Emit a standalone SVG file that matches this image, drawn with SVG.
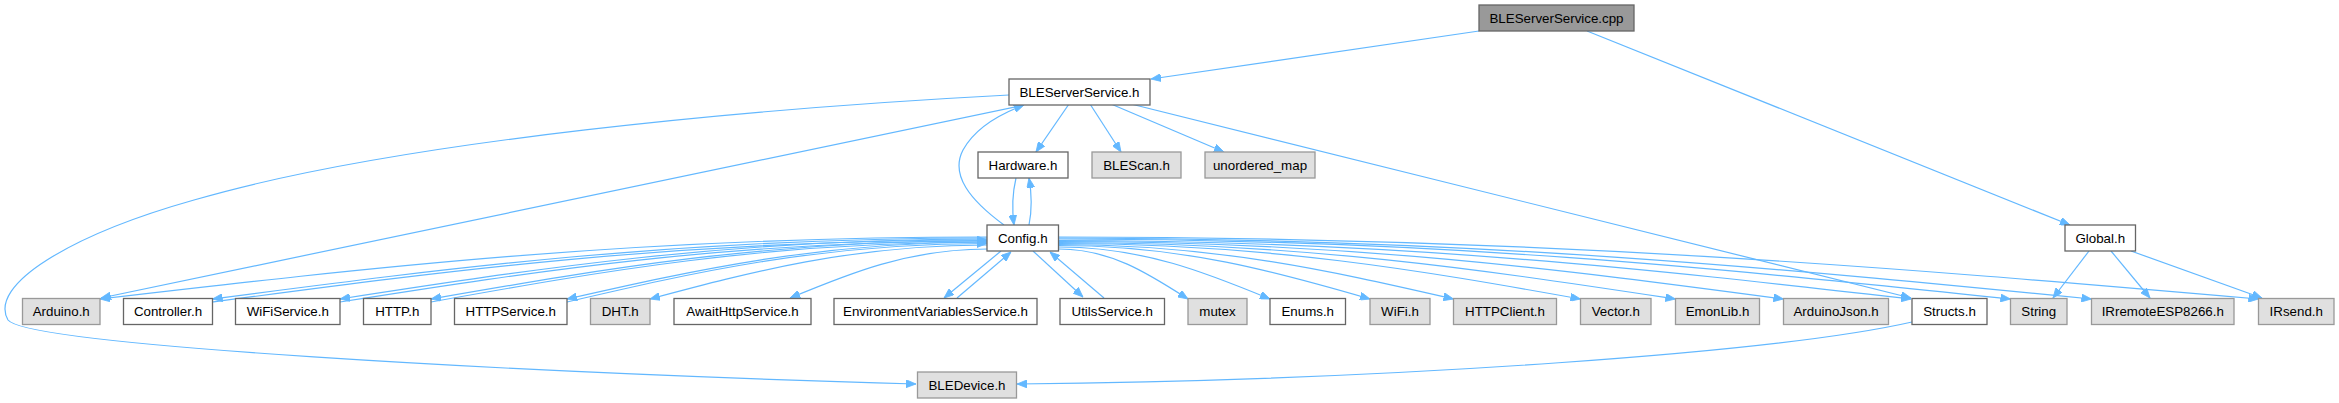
<svg xmlns="http://www.w3.org/2000/svg" width="2339" height="403" viewBox="0 0 2339 403">
<defs>
<style>
.w rect{fill:#ffffff;stroke:#666666;stroke-width:1.3}
.g rect{fill:#e0e0e0;stroke:#999999;stroke-width:1.3}
.r rect{fill:#999999;stroke:#666666;stroke-width:1.3}
text{font-family:"Liberation Sans",Arial,Helvetica,sans-serif;font-size:13.33px;fill:#000000;text-anchor:middle}
#edges path{fill:none;stroke:#63b8ff;stroke-width:1.2;marker-end:url(#arr)}
</style>
<marker id="arr" viewBox="0 0 10 8" refX="10" refY="4" markerWidth="10" markerHeight="8" markerUnits="userSpaceOnUse" orient="auto">
<path d="M0,0 L10,4 L0,8 z" fill="#63b8ff" stroke="#63b8ff" stroke-width="0.8"/>
</marker>
</defs>
<rect x="0" y="0" width="2339" height="403" fill="#ffffff"/>
<g id="edges">
<path d="M1479,31 L1151,79"/>
<path d="M1587,31 L2070,225"/>
<path d="M1069,104 L1036,152"/>
<path d="M1090,104 L1121,152"/>
<path d="M1111,104 L1224,152"/>
<path d="M1131,104 L1911,298"/>
<path d="M1020,106 L101,298"/>
<path d="M1009,95 C760,108 400,140 194,200 C70,235 -12,285 8,320 C28,345 500,372 916,384"/>
<path d="M1004,225 C970,200 950,175 963,150 C975,128 1000,114 1024,105"/>
<path d="M1016,178 C1012,195 1012,210 1014,225"/>
<path d="M1029,225 C1032,210 1032,195 1029,178"/>
<path d="M1912,322 C1780,352 1400,380 1017,384"/>
<path d="M2089,251 L2053,298"/>
<path d="M2111,251 L2150,298"/>
<path d="M2131,251 L2262,298"/>
<path d="M1001,251 L944,298"/>
<path d="M957,298 L1011,252"/>
<path d="M1033,251 L1083,297"/>
<path d="M1104,298 L1050,252"/>
<path d="M1059,249 C1111,249 1149,274 1188,299"/>
<path d="M1059,247 C1143,247 1207,273 1270,299"/>
<path d="M1059,245.5 C1183,245.5 1277,272 1370,299"/>
<path d="M1059,244.5 C1217,244.5 1335,272 1453.5,299"/>
<path d="M1059,243.5 C1268,243.5 1424,271 1580.5,299"/>
<path d="M1059,242.5 C1306,242.5 1490,271 1675.5,299"/>
<path d="M1059,241.5 C1349,241.5 1566,270 1783.5,299"/>
<path d="M1059,240.5 C1400,240.5 1656,270 1911,299"/>
<path d="M1059,239 C1440,239 1725,269 2010.5,299"/>
<path d="M1059,238 C1472,238 1782,268.5 2091.5,299"/>
<path d="M1059,237 C1539,237 1899,268 2258.5,299"/>
<path d="M987,237 C632,237 366,268 100,299"/>
<path d="M987,238 C677,238 445,268.5 212.5,299"/>
<path d="M987,239 C728,239 534,269 340,299"/>
<path d="M987,240.5 C765,240.5 598,270 431,299"/>
<path d="M987,242 C819,242 693,270.5 567,299"/>
<path d="M987,245 C852,245 751,272 650,299"/>
<path d="M988,249 C908,249 849,273.5 790,298"/>
<path d="M212.5,302 C445,271 677,240 987,240"/>
<path d="M340,302 C534,271.5 728,241 987,241"/>
<path d="M431,302 C598,272 765,242 987,242"/>
<path d="M567,302 C693,272.75 819,243.5 987,243.5"/>
</g>
<g id="n_cpp" class="r"><rect x="1479" y="5" width="155" height="26"/><text x="1556.5" y="22.7">BLEServerService.cpp</text></g>
<g id="n_bssh" class="w"><rect x="1009" y="79" width="141" height="26"/><text x="1079.5" y="96.7">BLEServerService.h</text></g>
<g id="n_hardware" class="w"><rect x="978" y="152" width="90" height="26"/><text x="1023" y="169.7">Hardware.h</text></g>
<g id="n_blescan" class="g"><rect x="1092" y="152" width="89" height="26"/><text x="1136.5" y="169.7">BLEScan.h</text></g>
<g id="n_umap" class="g"><rect x="1205" y="152" width="110" height="26"/><text x="1260" y="169.7">unordered_map</text></g>
<g id="n_config" class="w"><rect x="987" y="225" width="71.5" height="26"/><text x="1022.75" y="242.7">Config.h</text></g>
<g id="n_global" class="w"><rect x="2065" y="225" width="70.5" height="26"/><text x="2100.25" y="242.7">Global.h</text></g>
<g id="n_arduino" class="g"><rect x="22.5" y="298.5" width="77.5" height="26"/><text x="61.25" y="316.2">Arduino.h</text></g>
<g id="n_controller" class="w"><rect x="123.5" y="298.5" width="89" height="26"/><text x="168" y="316.2">Controller.h</text></g>
<g id="n_wifiservice" class="w"><rect x="235.5" y="298.5" width="104.5" height="26"/><text x="287.75" y="316.2">WiFiService.h</text></g>
<g id="n_http" class="w"><rect x="363.5" y="298.5" width="67.5" height="26"/><text x="397.25" y="316.2">HTTP.h</text></g>
<g id="n_httpservice" class="w"><rect x="454.5" y="298.5" width="112.5" height="26"/><text x="510.75" y="316.2">HTTPService.h</text></g>
<g id="n_dht" class="g"><rect x="590.5" y="298.5" width="59.5" height="26"/><text x="620.25" y="316.2">DHT.h</text></g>
<g id="n_await" class="w"><rect x="674" y="298.5" width="137" height="26"/><text x="742.5" y="316.2">AwaitHttpService.h</text></g>
<g id="n_env" class="w"><rect x="834" y="298.5" width="203" height="26"/><text x="935.5" y="316.2">EnvironmentVariablesService.h</text></g>
<g id="n_utils" class="w"><rect x="1060" y="298.5" width="104.5" height="26"/><text x="1112.25" y="316.2">UtilsService.h</text></g>
<g id="n_mutex" class="g"><rect x="1188" y="298.5" width="59" height="26"/><text x="1217.5" y="316.2">mutex</text></g>
<g id="n_enums" class="w"><rect x="1270" y="298.5" width="75.5" height="26"/><text x="1307.75" y="316.2">Enums.h</text></g>
<g id="n_wifi" class="g"><rect x="1370" y="298.5" width="60" height="26"/><text x="1400" y="316.2">WiFi.h</text></g>
<g id="n_httpclient" class="g"><rect x="1453.5" y="298.5" width="103" height="26"/><text x="1505" y="316.2">HTTPClient.h</text></g>
<g id="n_vector" class="g"><rect x="1580.5" y="298.5" width="70.5" height="26"/><text x="1615.75" y="316.2">Vector.h</text></g>
<g id="n_emonlib" class="g"><rect x="1675.5" y="298.5" width="84" height="26"/><text x="1717.5" y="316.2">EmonLib.h</text></g>
<g id="n_arduinojson" class="g"><rect x="1783.5" y="298.5" width="105" height="26"/><text x="1836" y="316.2">ArduinoJson.h</text></g>
<g id="n_structs" class="w"><rect x="1912" y="298.5" width="75" height="26"/><text x="1949.5" y="316.2">Structs.h</text></g>
<g id="n_string" class="g"><rect x="2010.5" y="298.5" width="56.5" height="26"/><text x="2038.75" y="316.2">String</text></g>
<g id="n_irremote" class="g"><rect x="2091.5" y="298.5" width="142.5" height="26"/><text x="2162.75" y="316.2">IRremoteESP8266.h</text></g>
<g id="n_irsend" class="g"><rect x="2258.5" y="298.5" width="75.5" height="26"/><text x="2296.25" y="316.2">IRsend.h</text></g>
<g id="n_bledevice" class="g"><rect x="917.5" y="372" width="99" height="26"/><text x="967" y="389.7">BLEDevice.h</text></g>
</svg>
